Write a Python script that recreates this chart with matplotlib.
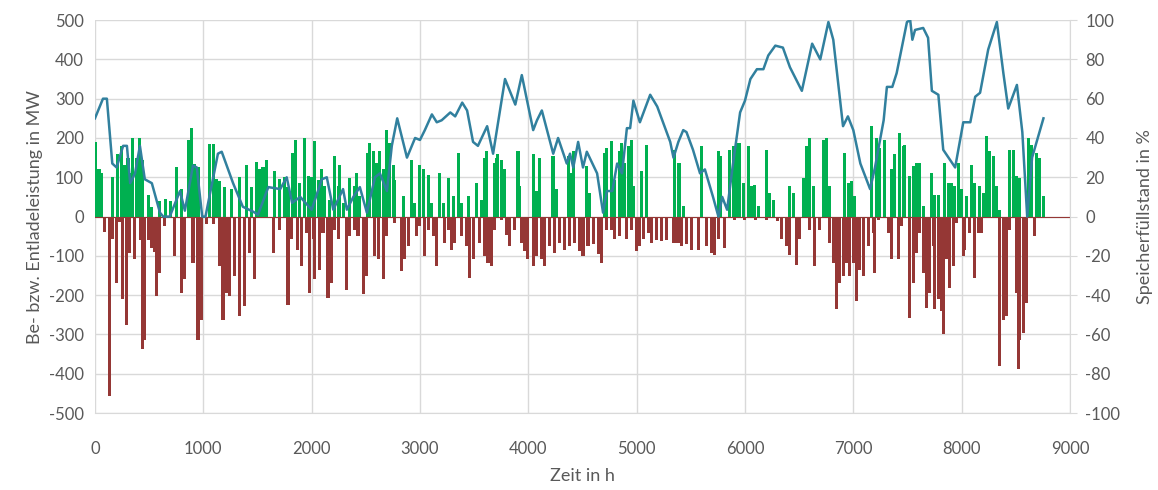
import matplotlib
matplotlib.use("Agg")
import matplotlib.pyplot as plt

# Speicherfuellstand (hour, %)
level_h = [0, 74, 110, 160, 200, 260, 295, 325, 370, 415, 460, 525, 600, 630, 690, 785, 830, 905, 940, 990,
           1020, 1135, 1170, 1275, 1365, 1460, 1505, 1600, 1710, 1770, 1820, 1895, 2000, 2095, 2140, 2200,
           2290, 2325, 2385, 2445, 2510, 2585, 2630, 2695, 2740, 2790, 2880, 2955, 3000, 3045, 3110, 3155,
           3200, 3280, 3325, 3390, 3435, 3490, 3535, 3620, 3675, 3785, 3880, 3940, 4045, 4080, 4125, 4230,
           4275, 4355, 4385, 4415, 4460, 4505, 4540, 4635, 4690, 4725, 4775, 4820, 4865, 4910, 4940, 4970,
           5030, 5125, 5190, 5310, 5340, 5385, 5430, 5460, 5520, 5585, 5630, 5705, 5755, 5790, 5835, 5890,
           5955, 6000, 6050, 6110, 6170, 6215, 6280, 6350, 6415, 6525, 6620, 6695, 6770, 6815, 6905, 6950,
           7000, 7065, 7155, 7200, 7280, 7310, 7360, 7400, 7495, 7525, 7545, 7570, 7645, 7690, 7725, 7785,
           7830, 7940, 8015, 8080, 8125, 8170, 8245, 8325, 8385, 8430, 8510, 8560, 8605, 8650, 8755]
level_pct = [50, 60, 60, 27, 25, 36, 36, 17, 22, 36, 19, 17, 2, 0, 0, 13, 3, 26, 25, 0,
             0, 32, 33, 17, 5, 2.5, 1, 15, 14, 20, 7, 10, 3.5, 19, 20, 3.5,
             14, 3.5, 10, 15, 2, 20, 22, 13, 36, 50, 30, 40, 39, 44, 52, 48,
             49, 53, 51, 58, 54, 38, 36, 46, 32, 70, 57, 72, 44, 49, 54, 32,
             40, 27, 32, 25, 38, 25, 33, 22, 2, 13, 13, 27, 22, 45, 45, 59,
             48, 62, 56, 38, 30, 38, 44, 43, 34, 22, 24, 10, 0, 10, 3.5, 27,
             53, 59, 70, 75, 75, 82, 87, 86, 76, 64, 88, 80, 99, 90, 46, 51,
             44, 27, 14, 25, 49, 66, 66, 73, 99, 100, 90, 95, 96, 91, 64, 62,
             34, 25, 48, 48, 61, 63, 85, 99, 73, 55, 67, 43, 0, 30, 50]

# Beladeleistung (hour, MW)
charge_h = [6, 20, 45, 60, 165, 212, 243, 274, 305, 325, 345, 382, 412, 443, 490, 520, 600, 650, 700, 750,
            797, 860, 890, 920, 951, 1060, 1090, 1120, 1150, 1197, 1259, 1335, 1397, 1443, 1490, 1520, 1551,
            1582, 1660, 1705, 1751, 1782,
            1828, 1850, 1890, 1936, 1967, 1997, 2028, 2059, 2090, 2120, 2167, 2213, 2244, 2259, 2290, 2351,
            2398, 2413, 2444, 2520, 2536, 2567, 2598, 2628, 2659, 2690, 2721, 2752, 2767, 2844, 2921, 2952,
            2998, 3029, 3075, 3105, 3182, 3213, 3259, 3306, 3352, 3383, 3444, 3521, 3567, 3598,
            3613, 3690, 3705, 3720, 3751, 3782, 3905, 3920, 4044, 4074, 4105, 4228, 4259, 4367, 4398, 4413,
            4536, 4567, 4705, 4721, 4767, 4798, 4844, 4859, 4890, 4921, 4952, 4967, 5044, 5090, 5352, 5383,
            5398, 5429, 5598, 5752, 5777, 5860, 5891, 5922, 5952, 5983, 6029, 6060, 6091, 6122, 6199, 6229,
            6260, 6414, 6445, 6537, 6568, 6599, 6629, 6722, 6753, 6783, 6922, 6953, 6983, 7014, 7168,
            7214, 7245, 7291, 7352, 7383, 7429, 7460, 7475, 7522, 7552, 7583, 7614, 7645, 7722, 7752, 7783,
            7845, 7875, 7906, 7937, 7968, 7999, 8045, 8091, 8122, 8168, 8199, 8229, 8260, 8291, 8322, 8353,
            8445, 8476, 8506, 8537, 8614, 8645, 8691, 8722, 8753]
charge_mw = [190, 120, 120, 110, 100, 160, 180, 130, 150, 110, 200, 150, 200, 145, 55, 25, 40, 45, 40, 125,
             70, 195, 225, 135, 125, 185, 185, 95, 90, 75, 70, 100, 130, 75, 140, 120, 125,
             145, 115, 95, 100, 75,
             162, 196, 86, 200, 103, 100, 192, 94, 120, 77, 43, 153, 77, 132, 35, 98,
             77, 111, 52, 162, 187, 166, 136, 166, 120, 221, 187, 132, 94, 52, 145, 35,
             132, 120, 107, 35, 111, 35, 98, 52, 162, 35, 52, 86, 43, 149,
             166, 136, 149, 158, 145, 120, 166, 77, 158, 64, 149, 153, 69, 153, 111, 166,
             128, 60, 162, 175, 192, 94, 166, 187, 136, 179, 196, 77, 115, 183, 170, 136,
             136, 26, 179, 166, 153, 170, 179, 187, 187, 86, 179, 77, 81, 26, 170, 60,
             43, 77, 60, 98, 179, 200, 77, 196, 200, 77, 162, 86, 90, 52, 230,
             200, 175, 196, 120, 158, 213, 179, 183, 103, 128, 136, 136, 26, 111, 56, 56,
             136, 86, 86, 77, 136, 69, 52, 132, 86, 77, 60, 204, 166, 153, 77, 18,
             170, 170, 103, 98, 200, 183, 162, 149, 52]

# Entladeleistung (hour, MW)
discharge_h = [90, 130, 135, 166, 197, 228, 258, 289, 320, 366, 425, 443, 459, 490, 520, 550, 566, 597, 643, 735,
               797, 828, 905, 951, 982, 1030, 1090, 1150, 1182, 1213, 1243, 1290, 1336, 1382, 1428, 1474, 1644,
               1705, 1782,
               1790, 1813, 1874, 1905, 1951, 1982, 2013, 2028, 2074, 2105, 2151, 2182, 2213, 2244, 2320, 2351,
               2398, 2428, 2475, 2505, 2582, 2613, 2659, 2690, 2767, 2828, 2859, 2890, 2967, 2998, 3044, 3075,
               3121, 3152, 3229, 3259, 3290, 3321, 3383, 3429, 3460, 3490, 3552, 3598,
               3597, 3628, 3659, 3690, 3751, 3797, 3828, 3874, 3936, 3967, 3997, 4044, 4074, 4121, 4151, 4198,
               4244, 4290, 4336, 4382, 4428, 4475, 4505, 4551, 4598, 4644, 4675, 4721, 4767, 4798, 4844, 4905,
               4952, 4998, 5029, 5059, 5105, 5136, 5182, 5228, 5274, 5336, 5367,
               5398, 5414, 5460, 5506, 5568, 5645, 5690, 5722, 5752, 5814, 5900, 6000, 6100, 6200, 6300, 6337,
               6383, 6414, 6476, 6506, 6599, 6645, 6691, 6783, 6814, 6845, 6876, 6906, 6937, 6968, 6999, 7030,
               7060, 7091, 7137, 7183,
               7198, 7229, 7321, 7352, 7414, 7445, 7522, 7552, 7583, 7614, 7645, 7675, 7706, 7737, 7752, 7783,
               7814, 7829, 7860, 7891, 7922, 7952, 8014, 8029, 8076, 8122, 8153, 8183, 8353, 8383, 8414, 8445,
               8506, 8528, 8537, 8568, 8599, 8676]
discharge_mw = [-40, -457, -338, -58, -169, -15, -211, -275, -92, -109, -60, -338, -313, -60, -80, -90, -203, -143, -25, -100,
                -194, -160, -118, -313, -262, -20, -20, -126, -262, -194, -203, -152, -253, -228, -92, -160, -92,
                -33, -224,
                -211, -58, -84, -126, -41, -194, -58, -160, -135, -41, -207, -169, -33, -58, -186, -50,
                -33, -50, -198, -152, -100, -109, -160, -50, -16, -139, -109, -75, -50, -25, -100, -33,
                -50, -126, -67, -33, -84, -67, -50, -75, -156, -109, -67, -41,
                -100, -118, -126, -33, -8, -46, -75, -33, -67, -88, -109, -126, -100, -109, -126, -75,
                -92, -67, -84, -75, -67, -88, -100, -75, -71, -96, -118, -33, -33, -58, -50, -58,
                -33, -88, -75, -58, -41, -67, -60, -62, -60, -67, -67,
                -67, -75, -71, -84, -84, -75, -92, -97, -58, -80, -8, -8, -8, -8, -10, -58,
                -75, -97, -122, -58, -33, -126, -33, -67, -118, -236, -169, -152, -118, -152, -118, -215,
                -135, -152, -75, -41,
                -143, -8, -41, -109, -109, -25, -258, -169, -92, -41, -143, -233, -194, -75, -236, -211,
                -241, -300, -109, -181, -126, -16, -100, -84, -41, -156, -41, -41, -380, -262, -253, -33,
                -194, -389, -313, -296, -220, -50]

GREEN = '#00B050'
RED = '#953735'
BLUE = '#31809E'
GRID = '#D9D9D9'
TXT = '#595959'

plt.rcParams['font.family'] = ['Lato', 'DejaVu Sans']
plt.rcParams['axes.unicode_minus'] = False

fig = plt.figure(figsize=(11.58, 4.90), dpi=100)
ax = fig.add_axes([0.082, 0.157, 0.842, 0.802])

ax.bar(charge_h, charge_mw, width=28, color=GREEN, linewidth=0, zorder=2)
ax.bar(discharge_h, discharge_mw, width=28, color=RED, linewidth=0, zorder=2)
ax.axhline(0, color=RED, linewidth=0.8, zorder=2)

ax.set_xlim(0, 9000)
ax.set_ylim(-500, 500)
ax.set_xticks(range(0, 9001, 1000))
ax.set_yticks(range(-500, 501, 100))
ax.grid(True, color=GRID, linewidth=1)
ax.set_axisbelow(True)
for s in ['top', 'right', 'left']:
    ax.spines[s].set_visible(False)
ax.spines['bottom'].set_color(GRID)
ax.tick_params(axis='both', length=0, colors=TXT, labelsize=12)
ax.tick_params(axis='x', pad=20)
ax.tick_params(axis='y', pad=8)
ax.set_xlabel('Zeit in h', fontsize=13, color=TXT, labelpad=8)
ax.set_ylabel('Be- bzw. Entladeleistung in MW', fontsize=13, color=TXT, labelpad=4)

ax2 = ax.twinx()
ax2.plot(level_h, level_pct, color=BLUE, linewidth=1.8, zorder=3)
ax2.set_ylim(-100, 100)
ax2.set_yticks(range(-100, 101, 20))
for s in ['top', 'left', 'bottom']:
    ax2.spines[s].set_visible(False)
ax2.spines['right'].set_color(GRID)
ax2.tick_params(axis='y', length=5, colors=TXT, labelsize=12, pad=6)
ax2.tick_params(axis='y', color=GRID)
ax2.set_ylabel('Speicherfüllstand in %', fontsize=13, color=TXT, labelpad=12)

fig.savefig('out.png', dpi=100, facecolor='white')
